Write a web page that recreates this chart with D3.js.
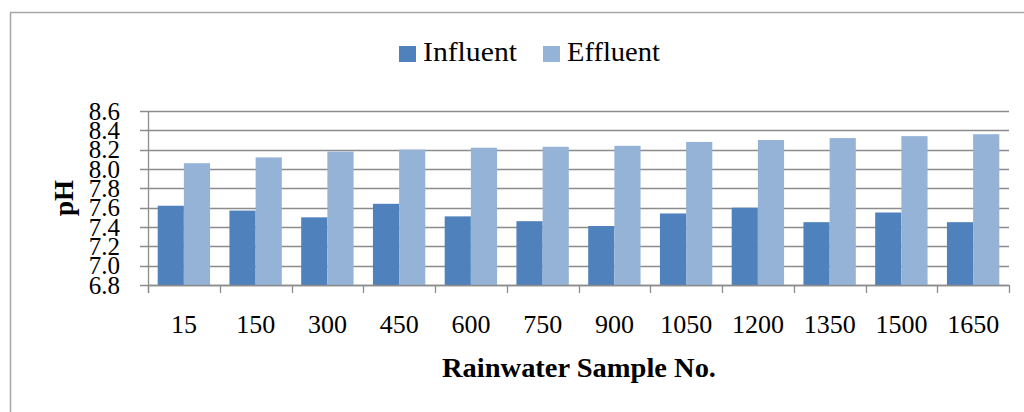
<!DOCTYPE html>
<html><head><meta charset="utf-8">
<script src="https://cdn.jsdelivr.net/npm/d3@7"></script>
<style>body{margin:0;background:#fff}svg{display:block}</style>
</head><body>
<svg id="c" width="1024" height="412"></svg>
<script>
const categories = ["15","150","300","450","600","750","900","1050","1200","1350","1500","1650"];
const influent = [7.62,7.57,7.50,7.64,7.51,7.46,7.41,7.54,7.60,7.45,7.55,7.45];
const effluent = [8.06,8.12,8.18,8.20,8.22,8.23,8.24,8.28,8.30,8.32,8.34,8.36];
const yTicks = [6.8,7.0,7.2,7.4,7.6,7.8,8.0,8.2,8.4,8.6];
const seriesNames = ["Influent","Effluent"];
const colors = ["#4F81BD","#95B3D7"];

const svg = d3.select("#c");
const font = "'Book Antiqua','Palatino Linotype',Palatino,'Liberation Serif','DejaVu Serif',serif";
svg.append("rect").attr("x",10.5).attr("y",12.5).attr("width",1100).attr("height",500)
  .attr("fill","none").attr("stroke","#a6a6a6").attr("stroke-width",1.5);

const L=148,R=1009,T=111,B=285;
const x = d3.scaleBand().domain(categories).range([L,R]).paddingInner(0).paddingOuter(0);
const y = d3.scaleLinear().domain([6.8,8.6]).range([B,T]);
const xi = d3.scaleBand().domain(seriesNames).range([0,x.bandwidth()]).paddingInner(0).paddingOuter(0.37);

// gridlines
svg.append("g").selectAll("line").data(yTicks).join("line")
  .attr("x1",L-8).attr("x2",R).attr("y1",d=>Math.round(y(d))+0.5).attr("y2",d=>Math.round(y(d))+0.5)
  .attr("stroke","#8c8c8c").attr("stroke-width",1.3);

// bars
const data = [influent,effluent];
seriesNames.forEach((s,si)=>{
  svg.append("g").selectAll("rect").data(categories).join("rect")
    .attr("x",(c)=>x(c)+xi(s)).attr("width",xi.bandwidth())
    .attr("y",(c,i)=>y(data[si][i])).attr("height",(c,i)=>B-y(data[si][i]))
    .attr("fill",colors[si]);
});

// axes lines
svg.append("line").attr("x1",L+0.5).attr("x2",L+0.5).attr("y1",T).attr("y2",B+8).attr("stroke","#8c8c8c").attr("stroke-width",1.3);
svg.append("line").attr("x1",L).attr("x2",R).attr("y1",B+0.5).attr("y2",B+0.5).attr("stroke","#8c8c8c").attr("stroke-width",1.3);
const xb = [...categories.map(c=>x(c)), R];
svg.append("g").selectAll("line").data(xb).join("line")
  .attr("x1",d=>Math.round(d)+0.5).attr("x2",d=>Math.round(d)+0.5).attr("y1",B).attr("y2",B+8)
  .attr("stroke","#8c8c8c").attr("stroke-width",1.3);

// y labels
svg.append("g").selectAll("text").data(yTicks).join("text")
  .attr("x",120).attr("y",d=>y(d)+8.5).attr("text-anchor","end")
  .attr("font-family",font).attr("font-size",25).attr("fill","#000")
  .text(d=>d.toFixed(1));

// x labels
svg.append("g").selectAll("text").data(categories).join("text")
  .attr("x",c=>x(c)+x.bandwidth()/2).attr("y",333).attr("text-anchor","middle")
  .attr("font-family",font).attr("font-size",26).attr("fill","#000").text(c=>c);

// axis titles
svg.append("text").attr("transform","translate(73,198) rotate(-90)").attr("text-anchor","middle")
  .attr("font-family",font).attr("font-size",27).attr("font-weight","bold").text("pH");
svg.append("text").attr("x",579).attr("y",377).attr("text-anchor","middle")
  .attr("font-family",font).attr("font-size",27).attr("font-weight","bold")
  .attr("textLength",274).attr("lengthAdjust","spacingAndGlyphs").text("Rainwater Sample No.");

// legend
const leg = [{n:"Influent",sx:399,tx:423,w:94},{n:"Effluent",sx:543,tx:567,w:93}];
leg.forEach((l,i)=>{
  svg.append("rect").attr("x",l.sx).attr("y",46).attr("width",17).attr("height",16).attr("fill",colors[i]);
  svg.append("text").attr("x",l.tx).attr("y",61).attr("font-family",font).attr("font-size",27)
    .attr("textLength",l.w).attr("lengthAdjust","spacingAndGlyphs").text(l.n);
});
</script>
</body></html>
